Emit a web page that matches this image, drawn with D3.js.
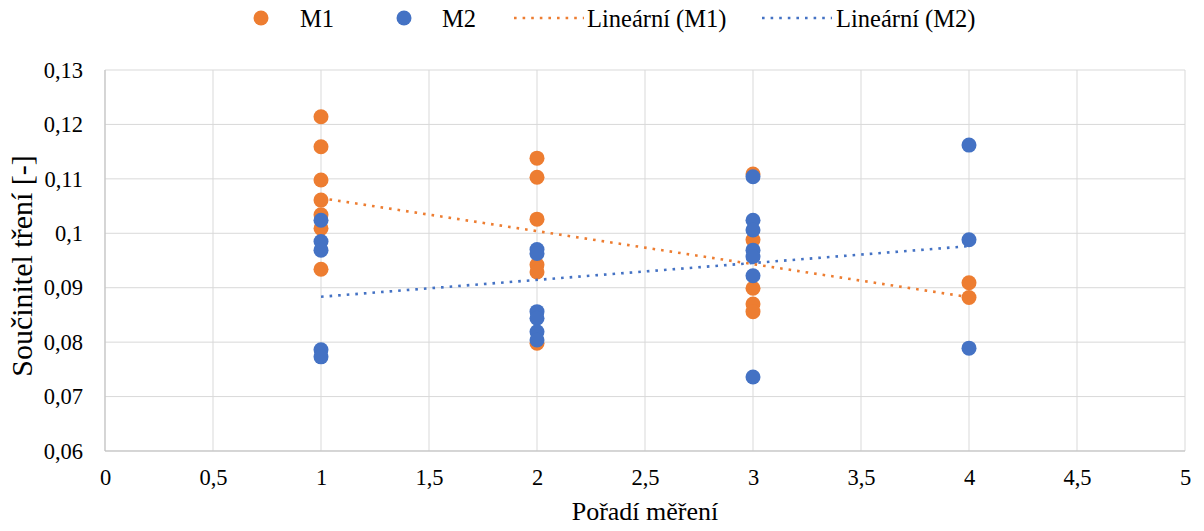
<!DOCTYPE html>
<html><head><meta charset="utf-8">
<script src="https://cdn.jsdelivr.net/npm/d3@7"></script>
<style>body{margin:0;background:#fff}svg{display:block}</style>
</head><body>
<svg id="c" width="1204" height="531"></svg>
<script>
const m1x = [1,1,1,1,1,1,1, 2,2,2,2,2,2, 3,3,3,3,3, 4,4];
const m1y = [0.1214,0.1159,0.1098,0.1061,0.1034,0.1009,0.0934, 0.1138,0.1103,0.1026,0.0942,0.0929,0.0798, 0.1109,0.0988,0.0899,0.0870,0.0856, 0.0909,0.0882];
const m2x = [1,1,1,1,1, 2,2,2,2,2,2, 3,3,3,3,3,3,3, 4,4,4];
const m2y = [0.1024,0.0985,0.0969,0.0786,0.0773, 0.0970,0.0963,0.0856,0.0844,0.0819,0.0804, 0.1104,0.1024,0.1006,0.0969,0.0957,0.0922,0.0736, 0.1162,0.0988,0.0789];
const xTicks = [0,0.5,1,1.5,2,2.5,3,3.5,4,4.5,5];
const yTicks = [0.06,0.07,0.08,0.09,0.10,0.11,0.12,0.13];
const seriesNames = ["M1","M2","Lineární (M1)","Lineární (M2)"];
const colors = {M1:"#ED7D31", M2:"#4472C4"};
const FONT = "'Liberation Serif', 'Times New Roman', serif";

const svg = d3.select("#c");
const L=105, R=1185, T=70, B=451;
const x = d3.scaleLinear().domain([0,5]).range([L,R]);
const y = d3.scaleLinear().domain([0.06,0.13]).range([B,T]);
const fmt = d => String(+d.toFixed(2)).replace(".", ",");

svg.append("g").selectAll("line").data(yTicks).join("line")
  .attr("x1",L).attr("x2",R).attr("y1",d=>y(d)).attr("y2",d=>y(d))
  .attr("stroke","#D9D9D9").attr("stroke-width",1);
svg.append("g").selectAll("line").data(xTicks).join("line")
  .attr("y1",T).attr("y2",B).attr("x1",d=>x(d)).attr("x2",d=>x(d))
  .attr("stroke","#D9D9D9").attr("stroke-width",1);
svg.append("line").attr("x1",L).attr("x2",R).attr("y1",B).attr("y2",B).attr("stroke","#BFBFBF");
svg.append("line").attr("x1",L).attr("x2",L).attr("y1",T).attr("y2",B).attr("stroke","#BFBFBF");

const ya = d3.axisLeft(y).tickValues(yTicks).tickFormat(fmt).tickSize(0).tickPadding(22);
const gy = svg.append("g").attr("transform",`translate(${L},0)`).call(ya);
gy.attr("font-family",FONT).attr("font-size",22.5);
gy.select(".domain").remove();
gy.selectAll("text").style("font-family",FONT).style("font-size","22.5px").attr("fill","#000");
const xa = d3.axisBottom(x).tickValues(xTicks).tickFormat(fmt).tickSize(0).tickPadding(18);
const gx = svg.append("g").attr("transform",`translate(0,${B})`).call(xa);
gx.attr("font-family",FONT).attr("font-size",22.5);
gx.select(".domain").remove();
gx.selectAll("text").style("font-family",FONT).style("font-size","22.5px").attr("fill","#000");

svg.append("text").attr("x",(L+R)/2).attr("y",520).attr("text-anchor","middle")
  .style("font-family",FONT).style("font-size","26px").text("Pořadí měření");
svg.append("text").attr("transform",`translate(32,266) rotate(-90)`).attr("text-anchor","middle")
  .style("font-family",FONT).style("font-size","30px").text("Součinitel tření [-]");

function reg(xs, ys){
  const n=xs.length, mx=d3.mean(xs), my=d3.mean(ys);
  let sxy=0,sxx=0; for(let i=0;i<n;i++){sxy+=(xs[i]-mx)*(ys[i]-my);sxx+=(xs[i]-mx)**2;}
  const b=sxy/sxx, a=my-b*mx; const x0=d3.min(xs), x1=d3.max(xs);
  return [[x0,a+b*x0],[x1,a+b*x1]];
}
const line = d3.line().x(d=>x(d[0])).y(d=>y(d[1]));

function pts(xs, ys, col){
  svg.append("g").selectAll("circle").data(xs.map((v,i)=>[v,ys[i]])).join("circle")
    .attr("cx",d=>x(d[0])).attr("cy",d=>y(d[1])).attr("r",7.5).attr("fill",col);
}
pts(m1x,m1y,colors.M1);
pts(m2x,m2y,colors.M2);
const DASH = "2.6,6";
svg.append("path").datum(reg(m1x,m1y)).attr("d",line).attr("fill","none").attr("stroke",colors.M1).attr("stroke-width",2.6).attr("stroke-dasharray",DASH);
svg.append("path").datum(reg(m2x,m2y)).attr("d",line).attr("fill","none").attr("stroke",colors.M2).attr("stroke-width",2.6).attr("stroke-dasharray",DASH);

const lg = svg.append("g").style("font-family",FONT).style("font-size","24.5px");
const ly = 18, lb = 27;
lg.append("circle").attr("cx",261).attr("cy",ly).attr("r",7.5).attr("fill",colors.M1);
lg.append("text").attr("x",300).attr("y",lb).text(seriesNames[0]);
lg.append("circle").attr("cx",404).attr("cy",ly).attr("r",7.5).attr("fill",colors.M2);
lg.append("text").attr("x",442).attr("y",lb).text(seriesNames[1]);
lg.append("line").attr("x1",514).attr("x2",584).attr("y1",ly).attr("y2",ly).attr("stroke",colors.M1).attr("stroke-width",2.6).attr("stroke-dasharray",DASH);
lg.append("text").attr("x",587).attr("y",lb).text(seriesNames[2]);
lg.append("line").attr("x1",762).attr("x2",832).attr("y1",ly).attr("y2",ly).attr("stroke",colors.M2).attr("stroke-width",2.6).attr("stroke-dasharray",DASH);
lg.append("text").attr("x",836).attr("y",lb).text(seriesNames[3]);
</script>
</body></html>
